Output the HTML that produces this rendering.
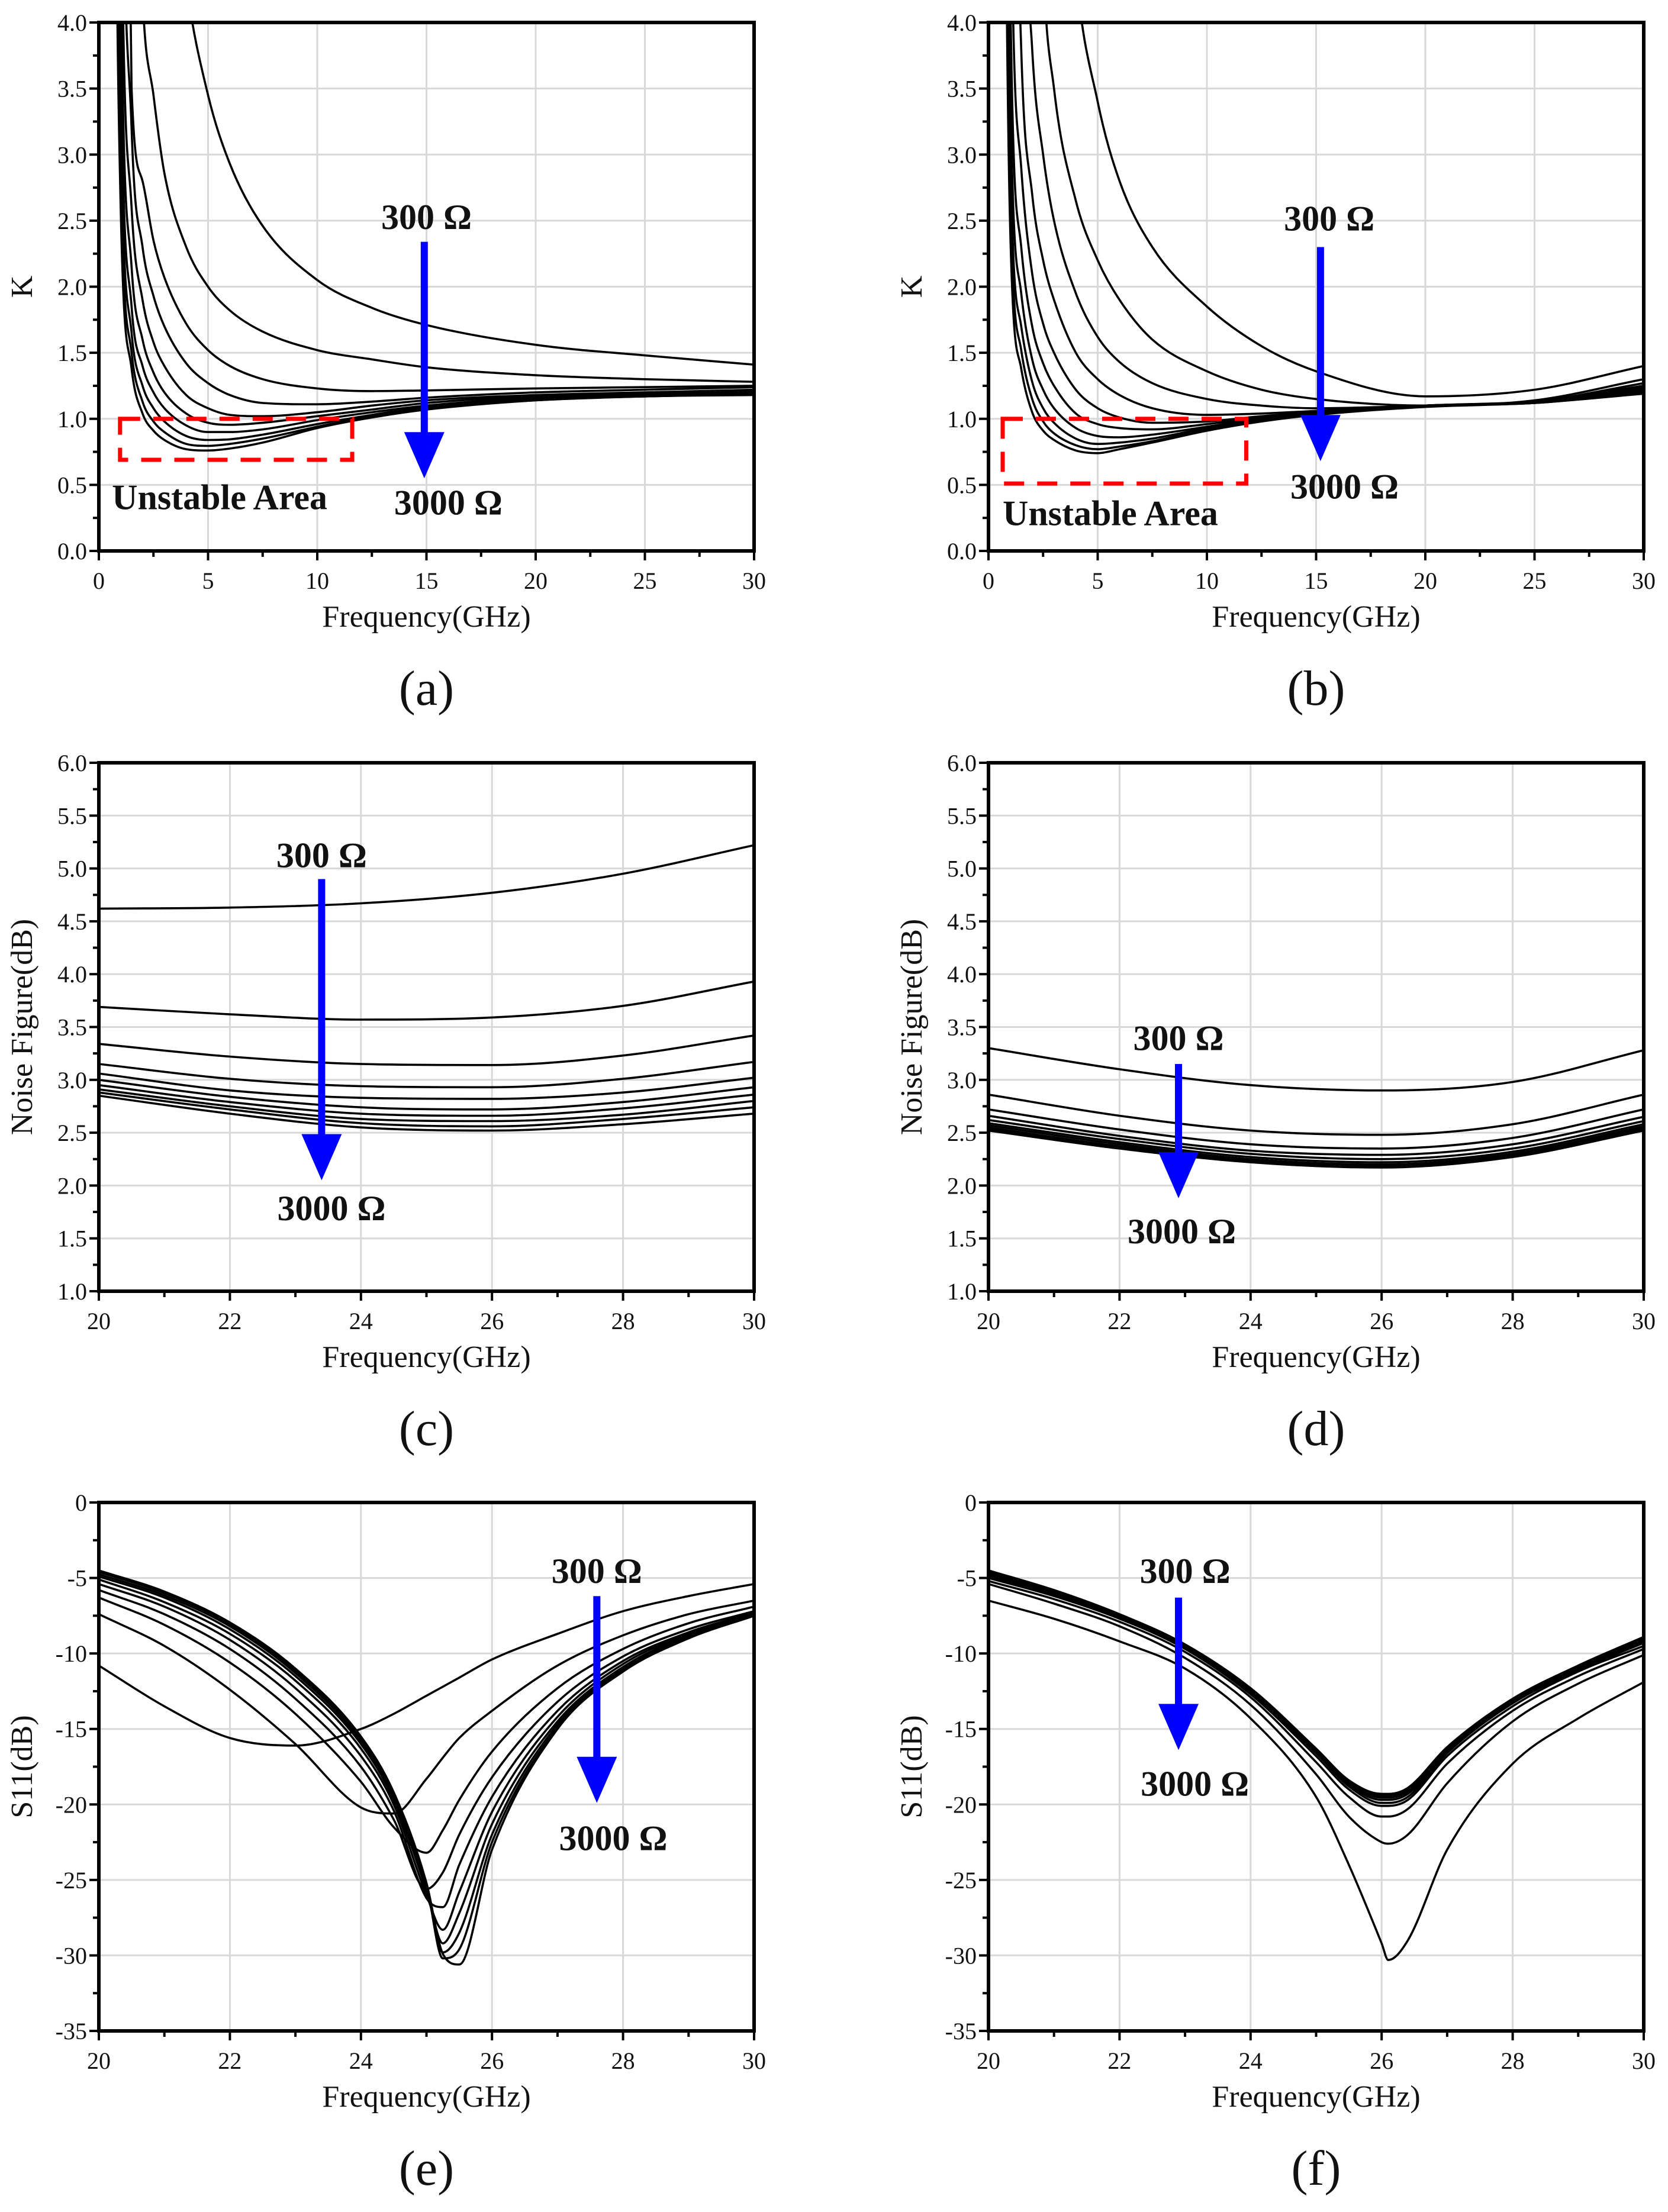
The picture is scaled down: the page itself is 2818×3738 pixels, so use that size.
<!DOCTYPE html>
<html><head><meta charset="utf-8"><style>
html,body{margin:0;padding:0;background:#fff;}
svg{display:block;}
text{font-family:"Liberation Serif",serif;fill:#111;}
.tick{font-size:40px;}
.atitle{font-size:52px;}
.plabel{font-size:84px;}
.ann{font-size:60px;font-weight:bold;}
</style></head><body>
<svg id="fig" width="2818" height="3738" viewBox="0 0 2818 3738" xmlns="http://www.w3.org/2000/svg"></svg>
<script>
// ---------- Panel (a): K vs frequency ----------
const freqA = [0.5,0.75,1,1.5,2,2.5,3,4,5,6,7.5,10,12.5,15,20,25,30];
const kA1 = [200,80,40,20,12,8.5,5.9,4.3,3.45,2.93,2.46,2.05,1.84,1.71,1.56,1.48,1.41];
const kA2 = [100,40,15,7,4.2,3.45,2.86,2.3,2.0,1.82,1.66,1.52,1.45,1.39,1.33,1.3,1.28];
const kA3 = [60,25,10,3.5,2.8,2.35,2.07,1.72,1.52,1.4,1.3,1.23,1.21,1.215,1.23,1.24,1.25];
const kA4 = [50,18,7,3.2,2.3,1.93,1.7,1.42,1.27,1.18,1.12,1.11,1.13,1.16,1.2,1.22,1.24];
const kA5 = [40,14,5.5,2.6,1.9,1.58,1.4,1.18,1.08,1.03,1.02,1.05,1.1,1.14,1.18,1.2,1.22];
const kA6 = [35,11,4.5,2.15,1.6,1.35,1.2,1.04,0.97,0.955,0.97,1.02,1.07,1.12,1.17,1.19,1.21];
const kA7 = [30,9,3.8,1.85,1.4,1.2,1.08,0.95,0.9,0.9,0.92,0.99,1.05,1.1,1.16,1.18,1.2];
const kA8 = [25,8,3.3,1.65,1.25,1.08,0.98,0.87,0.84,0.845,0.88,0.96,1.03,1.09,1.15,1.17,1.19];
const kA9 = [22,7,2.9,1.5,1.13,0.98,0.9,0.81,0.795,0.81,0.85,0.94,1.02,1.08,1.14,1.17,1.185];
const kA10 = [20,6,2.6,1.38,1.04,0.91,0.84,0.77,0.76,0.775,0.82,0.93,1.01,1.07,1.14,1.17,1.18];
const yTicksA = ["0.0","0.5","1.0","1.5","2.0","2.5","3.0","3.5","4.0"];
const xTicksA = ["0","5","10","15","20","25","30"];
// ---------- Panel (b) ----------
const freqB = [0.5,0.75,1,1.5,2,2.5,3,4,5,6,7.5,10,12.5,15,20,25,30];
const kB1 = [300,200,100,50,25,12,7,4.4,3.4,2.8,2.3,1.85,1.55,1.36,1.17,1.22,1.4];
const kB2 = [200,100,40,18,8,4.5,3.5,2.65,2.2,1.9,1.6,1.36,1.22,1.15,1.1,1.14,1.3];
const kB3 = [100,40,15,6,3.8,3.0,2.5,1.95,1.62,1.43,1.27,1.15,1.1,1.08,1.1,1.13,1.27];
const kB4 = [60,22,8,3.8,2.7,2.2,1.9,1.5,1.3,1.18,1.08,1.03,1.04,1.06,1.1,1.13,1.25];
const kB5 = [45,15,5.5,2.9,2.1,1.72,1.5,1.22,1.08,1.01,0.97,0.98,1.02,1.05,1.1,1.13,1.24];
const kB6 = [35,11,4.2,2.3,1.7,1.42,1.25,1.04,0.96,0.93,0.92,0.96,1.01,1.05,1.1,1.13,1.23];
const kB7 = [30,9,3.5,1.95,1.45,1.22,1.08,0.93,0.87,0.86,0.88,0.94,1.0,1.04,1.1,1.13,1.22];
const kB8 = [25,8,3.0,1.7,1.28,1.08,0.97,0.85,0.81,0.82,0.85,0.93,0.99,1.04,1.1,1.12,1.21];
const kB9 = [22,7,2.7,1.52,1.15,0.98,0.89,0.8,0.77,0.79,0.83,0.92,0.99,1.04,1.1,1.12,1.2];
const kB10 = [20,6,2.4,1.38,1.05,0.91,0.84,0.76,0.74,0.77,0.82,0.91,0.98,1.03,1.09,1.12,1.19];
// ---------- Panel (c): NF ----------
const freqC = [20,22,24,26,28,30];
const nfC1 = [4.62,4.63,4.67,4.77,4.95,5.22];
const nfC2 = [3.69,3.62,3.57,3.59,3.70,3.93];
const nfC3 = [3.34,3.22,3.15,3.14,3.23,3.42];
const nfC4 = [3.15,3.01,2.94,2.93,3.01,3.17];
const nfC5 = [3.06,2.90,2.83,2.82,2.88,3.02];
const nfC6 = [3.00,2.84,2.74,2.72,2.79,2.93];
const nfC7 = [2.95,2.79,2.68,2.66,2.73,2.86];
const nfC8 = [2.91,2.75,2.63,2.61,2.67,2.80];
const nfC9 = [2.88,2.72,2.59,2.56,2.63,2.74];
const nfC10 = [2.85,2.68,2.55,2.52,2.58,2.68];
const yTicksC = ["1.0","1.5","2.0","2.5","3.0","3.5","4.0","4.5","5.0","5.5","6.0"];
const xTicksC = ["20","22","24","26","28","30"];
// ---------- Panel (d) ----------
const freqD = [20,22,24,26,28,30];
const nfD1 = [3.30,3.10,2.95,2.90,2.98,3.28];
const nfD2 = [2.86,2.66,2.52,2.48,2.58,2.86];
const nfD3 = [2.72,2.53,2.39,2.35,2.45,2.72];
const nfD4 = [2.66,2.47,2.33,2.29,2.39,2.65];
const nfD5 = [2.62,2.44,2.30,2.25,2.35,2.61];
const nfD6 = [2.59,2.41,2.27,2.22,2.32,2.58];
const nfD7 = [2.57,2.39,2.25,2.20,2.30,2.56];
const nfD8 = [2.55,2.37,2.24,2.19,2.29,2.55];
const nfD9 = [2.53,2.36,2.23,2.18,2.28,2.53];
const nfD10 = [2.52,2.35,2.22,2.17,2.27,2.52];
// ---------- Panel (e): S11 ----------
const freqE = [20,21,22,23,24,24.5,25,25.25,25.5,26,27,28,29,30];
const sE1 = [-10.8,-13.5,-15.6,-16.1,-15.0,-14.0,-12.8,-12.2,-11.6,-10.4,-8.7,-7.2,-6.2,-5.4];
const sE2 = [-7.4,-9.5,-12.4,-16.0,-20.2,-20.6,-18.3,-16.9,-15.6,-13.8,-10.8,-8.8,-7.4,-6.5];
const sE3 = [-6.3,-8.1,-10.6,-14.0,-18.5,-21.5,-23.2,-21.7,-19.7,-16.5,-12.3,-9.7,-8.0,-6.9];
const sE4 = [-5.8,-7.4,-9.7,-13.0,-17.5,-21.0,-25.6,-24.5,-22.0,-18.2,-13.2,-10.2,-8.4,-7.2];
const sE5 = [-5.4,-6.9,-9.1,-12.3,-16.8,-20.4,-26.2,-26.8,-24.0,-19.5,-13.8,-10.5,-8.6,-7.3];
const sE6 = [-5.1,-6.6,-8.7,-11.8,-16.3,-20.0,-26.0,-28.3,-25.8,-20.5,-14.2,-10.7,-8.7,-7.35];
const sE7 = [-4.9,-6.3,-8.4,-11.5,-16.0,-19.7,-25.7,-29.2,-27.2,-21.3,-14.5,-10.9,-8.8,-7.4];
const sE8 = [-4.75,-6.15,-8.2,-11.3,-15.8,-19.5,-25.5,-29.8,-28.5,-22.0,-14.7,-11.0,-8.9,-7.45];
const sE9 = [-4.6,-6.0,-8.05,-11.15,-15.6,-19.3,-25.3,-30.2,-29.6,-22.5,-14.9,-11.1,-8.95,-7.5];
const sE10 = [-4.5,-5.9,-7.95,-11.0,-15.5,-19.2,-25.2,-29.9,-30.6,-23.0,-15.0,-11.2,-9.0,-7.5];
const yTicksE = ["-35","-30","-25","-20","-15","-10","-5","0"];
const xTicksE = ["20","22","24","26","28","30"];
// ---------- Panel (f) ----------
const freqF = [20,21,22,23,24,25,25.5,26,26.1,26.4,27,28,29,30];
const sF1 = [-6.5,-7.7,-9.2,-11.0,-14.3,-19.5,-24,-29.2,-30.3,-29.0,-23,-17.3,-14.3,-11.9];
const sF2 = [-5.4,-6.7,-8.2,-10.3,-13.4,-18.0,-20.8,-22.5,-22.6,-22.0,-18.6,-14.5,-12.0,-10.1];
const sF3 = [-5.2,-6.4,-7.9,-9.9,-12.9,-17.2,-19.5,-20.8,-20.8,-20.3,-17.3,-13.8,-11.5,-9.7];
const sF4 = [-5.0,-6.2,-7.7,-9.7,-12.7,-16.8,-19.0,-20.1,-20.1,-19.7,-16.8,-13.5,-11.2,-9.5];
const sF5 = [-4.9,-6.1,-7.6,-9.6,-12.6,-16.6,-18.8,-19.9,-19.9,-19.5,-16.6,-13.3,-11.1,-9.3];
const sF6 = [-4.8,-6.0,-7.55,-9.55,-12.5,-16.5,-18.7,-19.7,-19.7,-19.3,-16.5,-13.2,-11.0,-9.2];
const sF7 = [-4.7,-5.95,-7.5,-9.5,-12.45,-16.45,-18.6,-19.55,-19.55,-19.15,-16.4,-13.15,-10.95,-9.1];
const sF8 = [-4.65,-5.9,-7.45,-9.45,-12.4,-16.4,-18.5,-19.45,-19.45,-19.05,-16.3,-13.1,-10.9,-9.0];
const sF9 = [-4.6,-5.85,-7.42,-9.42,-12.35,-16.35,-18.45,-19.38,-19.38,-18.98,-16.25,-13.05,-10.85,-8.95];
const sF10 = [-4.5,-5.8,-7.4,-9.4,-12.3,-16.3,-18.4,-19.3,-19.3,-18.9,-16.2,-13.0,-10.8,-8.9];

const NS = "http://www.w3.org/2000/svg";
const fig = document.getElementById('fig');
function mk(tag, attrs, parent){ const e=document.createElementNS(NS,tag); for(const k in attrs) e.setAttribute(k,attrs[k]); (parent||fig).appendChild(e); return e; }

function monotonePath(xs, ys){
  const n=xs.length; const d=[], m=new Array(n);
  for(let i=0;i<n-1;i++) d.push((ys[i+1]-ys[i])/(xs[i+1]-xs[i]));
  m[0]=d[0]; m[n-1]=d[n-2];
  for(let i=1;i<n-1;i++){ m[i]=(d[i-1]*d[i]<=0)?0:(d[i-1]+d[i])/2; }
  for(let i=0;i<n-1;i++){
    if(d[i]===0){m[i]=0;m[i+1]=0;continue;}
    const a=m[i]/d[i], b=m[i+1]/d[i], s=a*a+b*b;
    if(s>9){const t=3/Math.sqrt(s); m[i]=t*a*d[i]; m[i+1]=t*b*d[i];}
  }
  let p="M"+xs[0].toFixed(1)+","+ys[0].toFixed(1);
  for(let i=0;i<n-1;i++){
    const h=(xs[i+1]-xs[i])/3;
    p+=" C"+(xs[i]+h).toFixed(1)+","+(ys[i]+m[i]*h).toFixed(1)+" "+(xs[i+1]-h).toFixed(1)+","+(ys[i+1]-m[i+1]*h).toFixed(1)+" "+xs[i+1].toFixed(1)+","+ys[i+1].toFixed(1);
  }
  return p;
}

let clipId=0;
function panel(cfg){
  const {x0,x1,y0,y1,xmin,xmax,ymin,ymax,yTicks,xTicks,name} = cfg;
  const g = mk('g',{});
  
  
  const sx = v => x0+(v-xmin)/(xmax-xmin)*(x1-x0);
  const sy = v => y1-(v-ymin)/(ymax-ymin)*(y1-y0);
  const nx=xTicks.length, ny=yTicks.length;
  for(let i=1;i<nx-1;i++){ const x=sx(parseFloat(xTicks[i])); const l=mk('line',{x1:x,x2:x,y1:y0,y2:y1,stroke:'#d8d8d8','stroke-width':3},g);   }
  for(let i=1;i<ny-1;i++){ const y=sy(parseFloat(yTicks[i])); const l=mk('line',{x1:x0,x2:x1,y1:y,y2:y,stroke:'#d8d8d8','stroke-width':3},g);   }
  const cid='clip'+(clipId++);
  const cp=mk('clipPath',{id:cid},g); mk('rect',{x:x0,y:y0,width:x1-x0,height:y1-y0},cp);
  const cg=mk('g',{'clip-path':'url(#'+cid+')'},g);
  cfg.series.forEach((s,k)=>{
    const xs=cfg.freq.map(sx), ys=s.map(v=>sy(Math.min(v, ymax+(ymax-ymin)*3)));
    const p=mk('path',{d:monotonePath(xs,ys),fill:'none',stroke:'#000','stroke-width':3.6,'stroke-linejoin':'round'},cg);
    
    
  });
  if(cfg.rect){
    const r=cfg.rect;
    const rr=mk('rect',{x:sx(r[0]),y:sy(r[3]),width:sx(r[1])-sx(r[0]),height:sy(r[2])-sy(r[3]),fill:'none',stroke:'#f00','stroke-width':7,'stroke-dasharray':'34,22'},g);
    
    
  }
  const fr=mk('rect',{x:x0,y:y0,width:x1-x0,height:y1-y0,fill:'none',stroke:'#000','stroke-width':6},g);
  
  
  for(let i=0;i<nx;i++){
    const v=parseFloat(xTicks[i]), x=sx(v);
    mk('line',{x1:x,x2:x,y1:y1,y2:y1+16,stroke:'#000','stroke-width':4},g);
    if(i<nx-1){ const xm=sx((v+parseFloat(xTicks[i+1]))/2); mk('line',{x1:xm,x2:xm,y1:y1,y2:y1+10,stroke:'#000','stroke-width':4},g); }
    const t=mk('text',{x:x,y:y1+64,'text-anchor':'middle',class:'tick'},g); t.textContent=xTicks[i];
     
  }
  for(let i=0;i<ny;i++){
    const v=parseFloat(yTicks[i]), y=sy(v);
    mk('line',{x1:x0-16,x2:x0,y1:y,y2:y,stroke:'#000','stroke-width':4},g);
    if(i<ny-1){ const ym=sy((v+parseFloat(yTicks[i+1]))/2); mk('line',{x1:x0-10,x2:x0,y1:ym,y2:ym,stroke:'#000','stroke-width':4},g); }
    const t=mk('text',{x:x0-20,y:y+14,'text-anchor':'end',class:'tick'},g); t.textContent=yTicks[i];
     
  }
  const xt=mk('text',{x:(x0+x1)/2,y:y1+128,'text-anchor':'middle',class:'atitle'},g); xt.textContent='Frequency(GHz)';
   
  const ytx=x0-113, ytc=(y0+y1)/2;
  const yt=mk('text',{x:ytx,y:ytc,'text-anchor':'middle',class:'atitle',transform:'rotate(-90 '+ytx+' '+ytc+')'},g); yt.textContent=cfg.ytitle;
   
  const pl=mk('text',{x:(x0+x1)/2,y:y1+260,'text-anchor':'middle',class:'plabel'},g); pl.textContent=cfg.label;
   
  const a=cfg.arrow; const ax=sx(a[0]), ay0=sy(a[1]), ay1=sy(a[2]);
  const ag=mk('g',{},g);  
  mk('line',{x1:ax,x2:ax,y1:ay0,y2:ay1-70,stroke:'#0000ff','stroke-width':12},ag);
  mk('polygon',{points:(ax-34)+','+(ay1-78)+' '+(ax+34)+','+(ay1-78)+' '+ax+','+ay1,fill:'#0000ff'},ag);
  cfg.anns.forEach(n=>{
    const t=mk('text',{x:sx(n.x),y:sy(n.y)+21,'text-anchor':n.anchor||'middle',class:'ann'},g); t.textContent=n.t;
     
  });
}

const L=[167,1274], R=[1670,2777];
const rows=[[38,931],[1289,2182],[2539,3432]];
panel({name:'panel-a',label:'(a)',ytitle:'K',x0:L[0],x1:L[1],y0:rows[0][0],y1:rows[0][1],xmin:0,xmax:30,ymin:0,ymax:4,yTicks:yTicksA,xTicks:xTicksA,freq:freqA,
  series:[kA1,kA2,kA3,kA4,kA5,kA6,kA7,kA8,kA9,kA10],rect:[0.97,11.6,0.69,1.0],arrow:[14.9,2.34,0.55],
  anns:[{t:'300 Ω',x:15.0,y:2.53,name:'label-300-ohm'},{t:'3000 Ω',x:16.0,y:0.37,name:'label-3000-ohm'},{t:'Unstable Area',x:0.6,y:0.41,anchor:'start',name:'unstable-area-label'}]});
panel({name:'panel-b',label:'(b)',ytitle:'K',x0:R[0],x1:R[1],y0:rows[0][0],y1:rows[0][1],xmin:0,xmax:30,ymin:0,ymax:4,yTicks:yTicksA,xTicks:xTicksA,freq:freqB,
  series:[kB1,kB2,kB3,kB4,kB5,kB6,kB7,kB8,kB9,kB10],rect:[0.65,11.8,0.51,1.0],arrow:[15.2,2.3,0.68],
  anns:[{t:'300 Ω',x:15.6,y:2.52,name:'label-300-ohm'},{t:'3000 Ω',x:16.3,y:0.49,name:'label-3000-ohm'},{t:'Unstable Area',x:0.65,y:0.29,anchor:'start',name:'unstable-area-label'}]});
panel({name:'panel-c',label:'(c)',ytitle:'Noise Figure(dB)',x0:L[0],x1:L[1],y0:rows[1][0],y1:rows[1][1],xmin:20,xmax:30,ymin:1,ymax:6,yTicks:yTicksC,xTicks:xTicksC,freq:freqC,
  series:[nfC1,nfC2,nfC3,nfC4,nfC5,nfC6,nfC7,nfC8,nfC9,nfC10],arrow:[23.4,4.9,2.05],
  anns:[{t:'300 Ω',x:23.4,y:5.13,name:'label-300-ohm'},{t:'3000 Ω',x:23.55,y:1.79,name:'label-3000-ohm'}]});
panel({name:'panel-d',label:'(d)',ytitle:'Noise Figure(dB)',x0:R[0],x1:R[1],y0:rows[1][0],y1:rows[1][1],xmin:20,xmax:30,ymin:1,ymax:6,yTicks:yTicksC,xTicks:xTicksC,freq:freqD,
  series:[nfD1,nfD2,nfD3,nfD4,nfD5,nfD6,nfD7,nfD8,nfD9,nfD10],arrow:[22.9,3.15,1.88],
  anns:[{t:'300 Ω',x:22.9,y:3.4,name:'label-300-ohm'},{t:'3000 Ω',x:22.95,y:1.57,name:'label-3000-ohm'}]});
panel({name:'panel-e',label:'(e)',ytitle:'S11(dB)',x0:L[0],x1:L[1],y0:rows[2][0],y1:rows[2][1],xmin:20,xmax:30,ymin:-35,ymax:0,yTicks:yTicksE,xTicks:xTicksE,freq:freqE,
  series:[sE1,sE2,sE3,sE4,sE5,sE6,sE7,sE8,sE9,sE10],arrow:[27.6,-6.2,-19.9],
  anns:[{t:'300 Ω',x:27.6,y:-4.5,name:'label-300-ohm'},{t:'3000 Ω',x:27.85,y:-22.2,name:'label-3000-ohm'}]});
panel({name:'panel-f',label:'(f)',ytitle:'S11(dB)',x0:R[0],x1:R[1],y0:rows[2][0],y1:rows[2][1],xmin:20,xmax:30,ymin:-35,ymax:0,yTicks:yTicksE,xTicks:xTicksE,freq:freqF,
  series:[sF1,sF2,sF3,sF4,sF5,sF6,sF7,sF8,sF9,sF10],arrow:[22.9,-6.3,-16.4],
  anns:[{t:'300 Ω',x:23.0,y:-4.5,name:'label-300-ohm'},{t:'3000 Ω',x:23.15,y:-18.6,name:'label-3000-ohm'}]});
</script>
</body></html>
